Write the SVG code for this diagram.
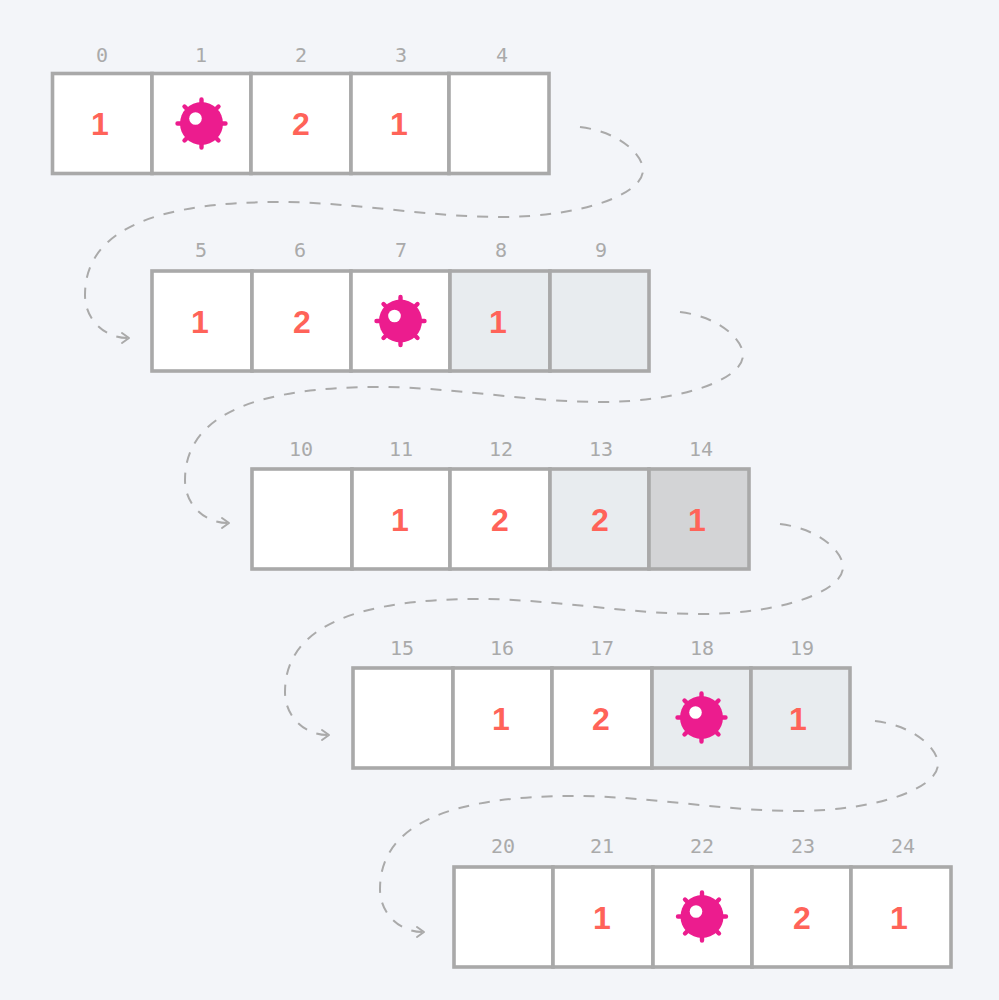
<svg xmlns="http://www.w3.org/2000/svg" xmlns:xlink="http://www.w3.org/1999/xlink" width="999" height="1000" viewBox="0 0 999 1000">
<style>
.c{fill:#fff;stroke:#a9a9a9;stroke-width:3.6}
.l{fill:#e8ecef}
.d{fill:#d3d4d6}
.i{font-family:"DejaVu Sans Mono",monospace;font-size:20px;fill:#aaa;text-anchor:middle}
.n{font-family:"Liberation Sans",Arial,sans-serif;font-size:32px;font-weight:700;fill:#ff6359;text-anchor:middle}
.k{fill:none;stroke:#aaa;stroke-width:2;stroke-dasharray:11 10}
.a{fill:none;stroke:#aaa;stroke-width:2;stroke-linecap:round;stroke-linejoin:round}
.s{stroke:#ec1c8e;stroke-width:4.4;stroke-linecap:round}
</style>
<defs>
<g id="mine">
<path class="s" d="M0-24V24M-24 0H24M-17-17L17 17M-17 17L17-17"/>
<circle r="21.5" fill="#ec1c8e"/>
<circle cx="-6" cy="-5" r="6.3" fill="#fff"/>
</g>
</defs>
<rect width="999" height="1000" fill="#f3f5f9"/>
<g id="connectors">
<path class="k" d="M580 127C620 132 643 155 643 170C643 195 580 217 500 217C430 217 350 202 280 202C160 202 85 228 85 295C85 320 105 338 128 338"/>
<path class="a" d="M122 333L129 338L122 343"/>
<path class="k" d="M680 312C720 317 743 340 743 355C743 380 680 402 600 402C530 402 450 387 380 387C260 387 185 413 185 480C185 505 205 523 228 523"/>
<path class="a" d="M222 518L229 523L222 528"/>
<path class="k" d="M780 524C820 529 843 552 843 567C843 592 780 614 700 614C630 614 550 599 480 599C360 599 285 625 285 692C285 717 305 735 328 735"/>
<path class="a" d="M322 730L329 735L322 740"/>
<path class="k" d="M875 721C915 726 938 749 938 764C938 789 875 811 795 811C725 811 645 796 575 796C455 796 380 822 380 889C380 914 400 932 423 932"/>
<path class="a" d="M417 927L424 932L417 937"/>
</g>
<g id="row-0">
<rect class="c" x="52.5" y="73.5" width="99.5" height="100"/><rect class="c" x="152" y="73.5" width="99" height="100"/><rect class="c" x="251" y="73.5" width="100" height="100"/><rect class="c" x="351" y="73.5" width="98" height="100"/><rect class="c" x="449" y="73.5" width="100" height="100"/>
<text class="i" x="102" y="61.5">0</text><text class="i" x="201" y="61.5">1</text><text class="i" x="301" y="61.5">2</text><text class="i" x="401" y="61.5">3</text><text class="i" x="502" y="61.5">4</text>
<text class="n" x="100" y="135">1</text><use href="#mine" x="201.5" y="123.5"/><text class="n" x="301" y="135">2</text><text class="n" x="399" y="135">1</text>
</g>
<g id="row-1">
<rect class="c" x="152" y="271" width="100" height="100"/><rect class="c" x="252" y="271" width="99" height="100"/><rect class="c" x="351" y="271" width="99" height="100"/><rect class="c l" x="450" y="271" width="100" height="100"/><rect class="c l" x="550" y="271" width="99" height="100"/>
<text class="i" x="201" y="257">5</text><text class="i" x="300" y="257">6</text><text class="i" x="401" y="257">7</text><text class="i" x="501" y="257">8</text><text class="i" x="601" y="257">9</text>
<text class="n" x="200" y="333">1</text><text class="n" x="302" y="333">2</text><use href="#mine" x="400.5" y="321"/><text class="n" x="498" y="333">1</text>
</g>
<g id="row-2">
<rect class="c" x="252" y="469" width="100" height="100"/><rect class="c" x="352" y="469" width="98" height="100"/><rect class="c" x="450" y="469" width="100" height="100"/><rect class="c l" x="550" y="469" width="99" height="100"/><rect class="c d" x="649" y="469" width="100" height="100"/>
<text class="i" x="301" y="455.5">10</text><text class="i" x="401" y="455.5">11</text><text class="i" x="501" y="455.5">12</text><text class="i" x="601" y="455.5">13</text><text class="i" x="701" y="455.5">14</text>
<text class="n" x="400" y="530.5">1</text><text class="n" x="500" y="530.5">2</text><text class="n" x="600" y="530.5">2</text><text class="n" x="697" y="530.5">1</text>
</g>
<g id="row-3">
<rect class="c" x="353" y="668" width="100" height="100"/><rect class="c" x="453" y="668" width="99" height="100"/><rect class="c" x="552" y="668" width="100" height="100"/><rect class="c l" x="652" y="668" width="99" height="100"/><rect class="c l" x="751" y="668" width="99" height="100"/>
<text class="i" x="402" y="654.5">15</text><text class="i" x="502" y="654.5">16</text><text class="i" x="602" y="654.5">17</text><text class="i" x="702" y="654.5">18</text><text class="i" x="802" y="654.5">19</text>
<text class="n" x="501" y="730">1</text><text class="n" x="601" y="730">2</text><use href="#mine" x="701.5" y="717.5"/><text class="n" x="798" y="730">1</text>
</g>
<g id="row-4">
<rect class="c" x="454" y="867" width="99" height="100"/><rect class="c" x="553" y="867" width="100" height="100"/><rect class="c" x="653" y="867" width="99" height="100"/><rect class="c" x="752" y="867" width="99" height="100"/><rect class="c" x="851" y="867" width="100" height="100"/>
<text class="i" x="503" y="853">20</text><text class="i" x="602" y="853">21</text><text class="i" x="702" y="853">22</text><text class="i" x="803" y="853">23</text><text class="i" x="903" y="853">24</text>
<text class="n" x="602" y="929">1</text><use href="#mine" x="702" y="916.5"/><text class="n" x="802" y="929">2</text><text class="n" x="899" y="929">1</text>
</g>
</svg>
